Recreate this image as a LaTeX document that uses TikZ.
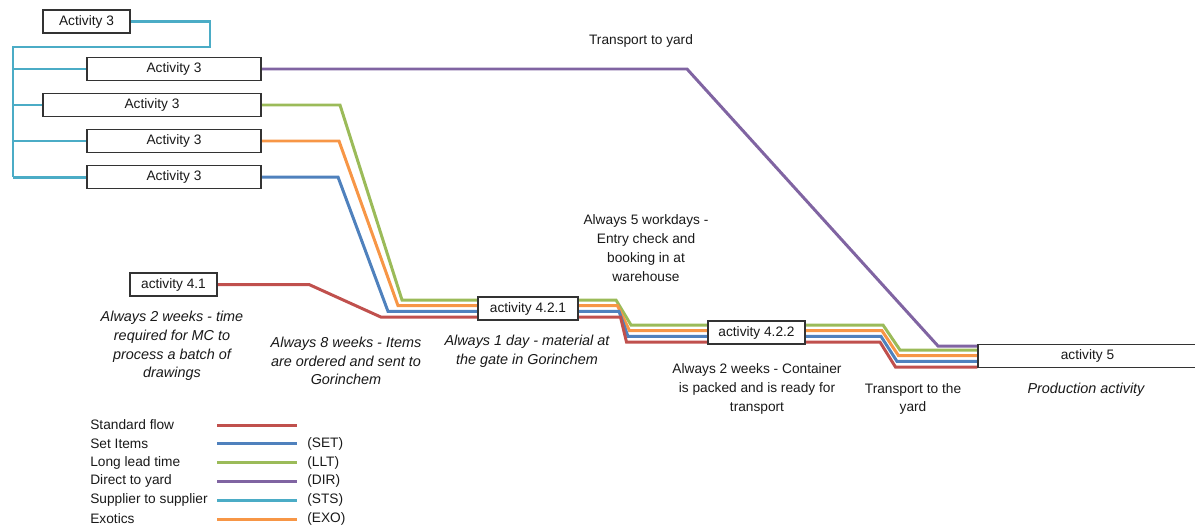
\documentclass[tikz,border=0pt]{standalone}
\usepackage{fontspec}
\setmainfont{Liberation Sans}
\usetikzlibrary{calc, backgrounds}

\definecolor{cstd}{HTML}{C0504D}  % standard flow
\definecolor{cset}{HTML}{4F81BD}  % set items
\definecolor{cllt}{HTML}{9BBB59}  % long lead time
\definecolor{cdir}{HTML}{8064A2}  % direct to yard
\definecolor{csts}{HTML}{4BACC6}  % supplier to supplier
\definecolor{cexo}{HTML}{F79646}  % exotics

\begin{document}
\begin{tikzpicture}[
    x=0.02cm, y=-0.02cm,
    font=\fontsize{7.8}{10.7}\selectfont,
    act/.style={draw=black!80, line width=0.7pt, fill=white, text=black!90,
                minimum height=4.6mm, inner sep=0pt},
    note/.style={align=center, inner sep=0pt, text=black!90},
    inote/.style={note, font=\fontsize{8.2}{10.7}\selectfont\itshape},
    flow/.style={line width=1.7pt},
    std/.style={flow, draw=cstd},
    set/.style={flow, draw=cset},
    llt/.style={flow, draw=cllt},
    dir/.style={flow, draw=cdir},
    sts/.style={flow, draw=csts},
    exo/.style={flow, draw=cexo},
]
\useasboundingbox (0,0) rectangle (1195,528);

% ---- activity boxes ----
\node[act, minimum width=17.4mm] (a3top) at (86.5,21.5) {Activity 3};
\node[act, minimum width=34.8mm] (a3dir) at (174,69)    {Activity 3};
\node[act, minimum width=43.6mm] (a3llt) at (152,105)   {Activity 3};
\node[act, minimum width=34.8mm] (a3exo) at (174,141)   {Activity 3};
\node[act, minimum width=34.8mm] (a3set) at (174,177)   {Activity 3};
\node[act, minimum width=17.4mm] (a41)   at (173.5,284.5) {activity 4.1};
\node[act, minimum width=20mm]   (a421)  at (528,308.5) {activity 4.2.1};
\node[act, minimum width=19.4mm] (a422)  at (756.5,332.5) {activity 4.2.2};
\node[act, minimum width=43.8mm] (a5)    at (1087.5,356) {activity 5};

% ---- notes ----
\node[note] (tyard) at (641,41) {Transport to yard};
\node[note] (n5wd)  at (646,248) {Always 5 workdays -\\Entry check and\\booking in at\\warehouse};
\node[inote] (n2wk) at (172,346)
    {Always 2 weeks - time\\required for MC to\\process a batch of\\drawings};
\node[inote] (n8wk) at (346,361)
    {Always 8 weeks - Items\\are ordered and sent to\\Gorinchem};
\node[inote] (n1d) at (527,351.5)
    {Always 1 day - material at\\the gate in Gorinchem};
\node[note] (n2wc) at (757,389) {Always 2 weeks - Container\\is packed and is ready for\\transport};
\node[note] (tthe) at (913,399) {Transport to the\\yard};
\node[inote] (prod) at (1086,390) {Production activity};

% ---- flows (behind the boxes) ----
\begin{pgfonlayer}{background}
\coordinate (bus) at (13,47);
\draw[sts] (a3top.east) -| (210,47) -- (bus) -- (bus |- a3set.west);
\foreach \n in {a3dir, a3llt, a3exo, a3set}
    \draw[sts] (bus |- \n.west) -- (\n.west);

\draw[dir] (a3dir.east) -- (687,69) -- (938,346) -- ($(a5.west)+(0,-10)$);
\draw[llt] (a3llt.east) -- (340,105) -- (402,300) -- (616,300)
    -- (631,325) -- (883,325) -- (900,350) -- ($(a5.west)+(0,-6)$);
\draw[exo] (a3exo.east) -- (339,141) -- (398,305.7) -- (617.5,305.7)
    -- (629.5,330.7) -- (882,330.7) -- (898.5,355.7) -- ($(a5.west)+(0,-0.3)$);
\draw[set] (a3set.east) -- (338,177) -- (388,311.4) -- (619,311.4)
    -- (628,336.4) -- (881,336.4) -- (897,361.4) -- ($(a5.west)+(0,5.4)$);
\draw[std] (a41.east) -- (309,284.5) -- (381,317.1) -- (620.5,317.1)
    -- (626.5,342.1) -- (880,342.1) -- (895.5,367.1) -- ($(a5.west)+(0,11.1)$);
\end{pgfonlayer}

% ---- legend ----
\node[note, anchor=west] (lg0) at (90,425) {Standard flow};
\draw[std] (217,425) -- (297,425);
\foreach \lbl/\sty/\abbr [count=\i] in {Set Items/set/(SET), Long lead time/llt/(LLT),
        Direct to yard/dir/(DIR), Supplier to supplier/sts/(STS), Exotics/exo/(EXO)}
{
    \node[note, anchor=west] (lg\i) at (90,{425+18.8*\i}) {\lbl};
    \draw[\sty] (217,{425+18.8*\i}) -- (297,{425+18.8*\i});
    \node[note, anchor=west] (ab\i) at (307,{425+18.8*\i}) {\abbr};
}
\end{tikzpicture}
\end{document}
